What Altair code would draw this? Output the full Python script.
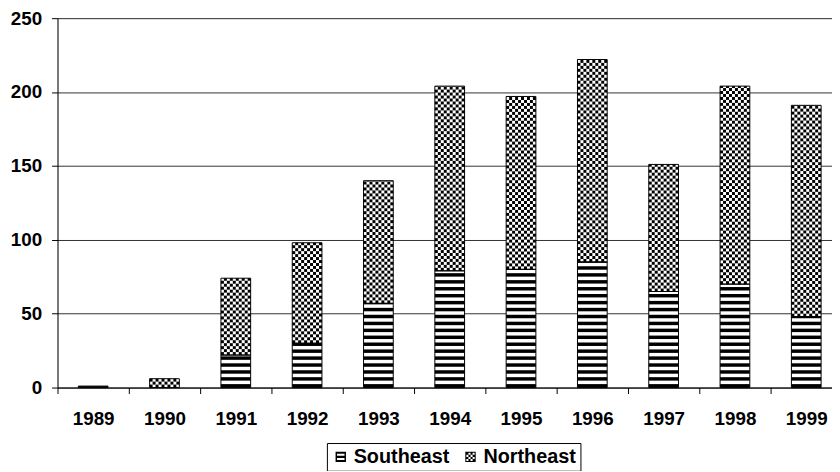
import altair as alt
import pandas as pd

# ---- data ----
years = ["1989", "1990", "1991", "1992", "1993", "1994", "1995", "1996", "1997", "1998", "1999"]
southeast = [1, 0, 22, 30, 57, 79, 80, 85, 65, 70, 48]
northeast = [0, 6, 52, 68, 83, 125, 117, 137, 86, 134, 143]
series_names = ["Southeast", "Northeast"]
y_ticks = [0, 50, 100, 150, 200, 250]

# ---- layout / style constants ----
PLOT_W, PLOT_H = 782, 373
Y_MAX = 250
PX = PLOT_H / Y_MAX                 # pixels per unit
STEP = 72                           # category width in px
BAR_FRAC = 30 / STEP                # bar width relative to band
STRIPE_PITCH = 7 / PX               # stripe period (units)
STRIPE_BLACK = 3.5 / PX             # black part of stripe (units)
CELL = 3 / PX                       # checker cell height (units)
N_COLS_BAND = STEP // 3             # 24 columns of 3px in a band
FIRST_COL = 7                       # bar covers columns 7..16
N_COLS_BAR = 10
FONT = "Liberation Sans"

# segments
seg_rows = []
for yr, se, ne in zip(years, southeast, northeast):
    if se > 0:
        seg_rows.append({"year": yr, "series": "Southeast", "y0": 0, "y1": se})
    if ne > 0:
        seg_rows.append({"year": yr, "series": "Northeast", "y0": se, "y1": se + ne})
seg_df = pd.DataFrame(seg_rows)

# horizontal stripes for Southeast
stripe_rows = []
for yr, se in zip(years, southeast):
    k = 0
    while k * STRIPE_PITCH < se:
        a = k * STRIPE_PITCH
        stripe_rows.append({"year": yr, "y0": a, "y1": min(a + STRIPE_BLACK, se)})
        k += 1
stripe_df = pd.DataFrame(stripe_rows)

# checker cells for Northeast
cell_rows = []
for yr, se, ne in zip(years, southeast, northeast):
    top = se + ne
    r = 0
    while se + r * CELL < top - 1e-9:
        a = se + r * CELL
        b = min(a + CELL, top)
        for c in range(N_COLS_BAR):
            if (r + c) % 2 == 0:
                cell_rows.append({"year": yr, "col": FIRST_COL + c, "y0": a, "y1": b})
        r += 1
cell_df = pd.DataFrame(cell_rows)

# legend symbol paths
SE_PATH = ("M-1,-1H1V1H-1Z "
           "M-0.72,-0.62V-0.2H0.72V-0.62Z "
           "M-0.72,0.2V0.62H0.72V0.2Z")
ne_parts = ["M-1,-1H1V1H-1Z", "M-0.8,-0.8V0.8H0.8V-0.8Z"]
for i in range(4):
    for j in range(4):
        if (i + j) % 2 == 0:
            x0 = -0.8 + 0.4 * i
            y0 = -0.8 + 0.4 * j
            ne_parts.append(f"M{x0:.2f},{y0:.2f}H{x0+0.4:.2f}V{y0+0.4:.2f}H{x0:.2f}Z")
NE_PATH = " ".join(ne_parts)

x_scale = alt.Scale(domain=years, paddingInner=0, paddingOuter=0, range=[0, STEP * len(years)])
x_axis = alt.Axis(title=None, labelAngle=0, tickBand="extent", tickSize=6, tickColor="black",
                  domainColor="black", labelFont=FONT, labelFontSize=19, labelFontWeight="bold",
                  labelColor="black", labelPadding=16, grid=False)
y_scale = alt.Scale(domain=[0, Y_MAX], nice=False)
y_axis = alt.Axis(title=None, values=y_ticks, tickSize=6, tickColor="black", domainColor="black",
                  labelFont=FONT, labelFontSize=19, labelFontWeight="bold", labelColor="black",
                  labelPadding=10, grid=True, gridColor="#333333", gridWidth=1)

X = alt.X("year:N", scale=x_scale, axis=x_axis)
Y = alt.Y("y0:Q", scale=y_scale, axis=y_axis)
Y2 = alt.Y2("y1:Q")

bar_w = alt.RelativeBandSize(BAR_FRAC)

white = alt.Chart(seg_df).mark_bar(width=bar_w, color="white").encode(x=X, y=Y, y2=Y2)

stripes = alt.Chart(stripe_df).mark_bar(width=bar_w, color="black").encode(x=X, y=Y, y2=Y2)

cells = alt.Chart(cell_df).mark_rect(color="black").encode(
    x=X,
    xOffset=alt.XOffset("col:O", scale=alt.Scale(domain=list(range(N_COLS_BAND)),
                                                  paddingInner=0, paddingOuter=0)),
    y=Y, y2=Y2,
)

outline = alt.Chart(seg_df).mark_bar(width=bar_w, fillOpacity=0, stroke="black",
                                     strokeWidth=1).encode(x=X, y=Y, y2=Y2)

legend_layer = alt.Chart(pd.DataFrame({"series": series_names})).transform_filter(
    "false").mark_point(filled=True, color="black", opacity=1).encode(
    shape=alt.Shape("series:N",
                    scale=alt.Scale(domain=series_names, range=[SE_PATH, NE_PATH]),
                    legend=alt.Legend(title=None, orient="none", direction="horizontal",
                                      legendX=272, legendY=429,
                                      strokeColor="black", padding=4, fillColor="white",
                                      labelFont=FONT, labelFontSize=20, labelFontWeight="bold",
                                      labelColor="black", symbolSize=110, symbolStrokeWidth=0,
                                      symbolFillColor="black", labelOffset=3, columnPadding=11,
                                      symbolOpacity=1))
)

chart = alt.layer(white, stripes, cells, outline, legend_layer).properties(
    width=PLOT_W, height=PLOT_H,
    autosize=alt.AutoSizeParams(type="none"),
    padding={"left": 50, "top": 8, "right": 0, "bottom": 82},
).configure_view(stroke=None).configure(background="white")

chart.save("out.html", embed_options={"renderer": "svg", "actions": False})
